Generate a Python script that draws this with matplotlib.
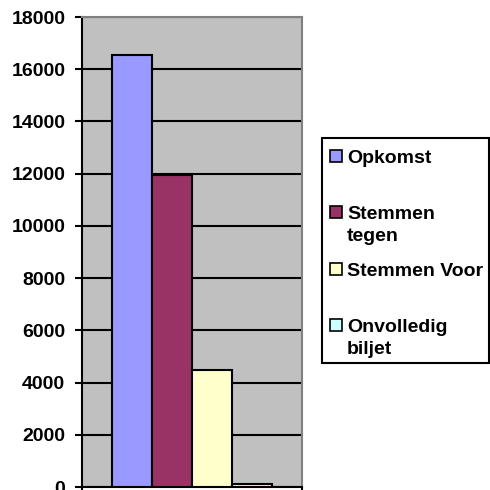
import matplotlib
matplotlib.use("Agg")
import matplotlib.pyplot as plt
from matplotlib.patches import Rectangle

series = ["Opkomst", "Stemmen\ntegen", "Stemmen Voor", "Onvolledig\nbiljet"]
values = [16550, 11950, 4500, 120]
colors = ["#9999FF", "#993366", "#FFFFCC", "#CCFFFF"]
yticks = [0, 2000, 4000, 6000, 8000, 10000, 12000, 14000, 16000, 18000]

W, H = 490, 490
fig = plt.figure(figsize=(W / 100, H / 100), dpi=100)
fig.patch.set_facecolor("white")
FONT = "Liberation Sans"
FS_TICK = 14
FS_LEG = 14

ax = fig.add_axes([82 / W, (H - 487) / H, 220 / W, 470 / H])
ax.set_facecolor("#C0C0C0")

n = len(values)
bw = 1 / (n + 1.5)
for i, (v, c) in enumerate(zip(values, colors)):
    ax.bar(0.75 * bw + (i + 0.5) * bw, v, width=bw, color=c,
           edgecolor="black", linewidth=1.5, zorder=3)

ax.set_xlim(0, 1)
ax.set_ylim(0, 18000)
ax.set_yticks(yticks)
ax.set_yticklabels([str(t) for t in yticks], fontfamily=FONT,
                   fontweight="bold", fontsize=FS_TICK)
ax.set_xticks([0, 1])
ax.set_xticklabels([])
ax.yaxis.grid(True, color="black", linewidth=1.5, zorder=1)
ax.set_axisbelow(True)
ax.tick_params(axis="y", length=5, width=1.5, pad=7, color="black")
ax.tick_params(axis="x", length=4, width=1.5, color="black")
ax.spines["left"].set_color("black")
ax.spines["left"].set_linewidth(1.5)
ax.spines["bottom"].set_color("black")
ax.spines["bottom"].set_linewidth(1.5)
ax.spines["top"].set_color("#808080")
ax.spines["top"].set_linewidth(1.5)
ax.spines["right"].set_color("#808080")
ax.spines["right"].set_linewidth(1.5)

# legend (manual, Excel style: handle aligned with first line)
def fx(px):
    return px / W

def fy(py):
    return (H - py) / H

fig.patches.append(Rectangle((fx(322), fy(363)), fx(489) - fx(322), fy(138) - fy(363),
                             transform=fig.transFigure, facecolor="white",
                             edgecolor="black", linewidth=1.5))
base0, step, lh = 163, 56.3, 22
for i, (lab, c) in enumerate(zip(series, colors)):
    b = base0 + step * i
    fig.patches.append(Rectangle((fx(330), fy(b - 1)), fx(12), 12 / H,
                                 transform=fig.transFigure, facecolor=c,
                                 edgecolor="black", linewidth=1.2))
    for j, line in enumerate(lab.split("\n")):
        fig.text(fx(347), fy(b + j * lh), line, fontfamily=FONT,
                 fontweight="bold", fontsize=FS_LEG, va="baseline", ha="left")

fig.savefig("out.png", dpi=100)
